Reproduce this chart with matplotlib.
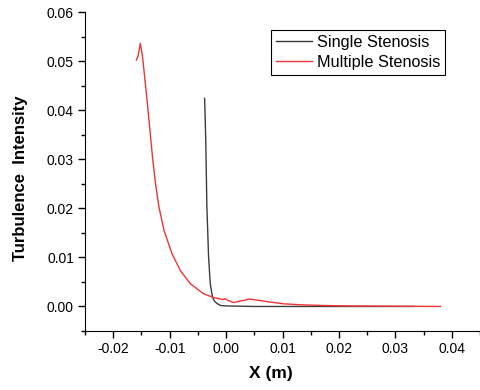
import matplotlib
matplotlib.use("Agg")
import matplotlib.pyplot as plt
from matplotlib.ticker import MultipleLocator

plt.rcParams['font.family'] = ['Liberation Sans', 'DejaVu Sans']

# Single stenosis curve
single_x = [-0.0038, -0.0036, -0.0034, -0.0031, -0.0028, -0.0025, -0.0023, -0.0020,
            -0.0016, -0.0010, 0.0001, 0.0050, 0.0150, 0.0250, 0.0333]
single_y = [0.0424, 0.0339, 0.0203, 0.0101, 0.0046, 0.0025, 0.0016, 0.0010,
            0.0006, 0.0002, 0.0001, 0.0000, 0.0000, 0.0000, 0.0000]

# Multiple stenosis curve
multi_x = [-0.0159, -0.0156, -0.0152, -0.0148, -0.0140, -0.0135, -0.0130, -0.0125,
           -0.0119, -0.0110, -0.0096, -0.0081, -0.0063, -0.0040, -0.0022, -0.0005,
           -0.0002, 0.0004, 0.0013, 0.0025, 0.0042, 0.0072, 0.0101, 0.0130,
           0.0170, 0.0220, 0.0300, 0.0380]
multi_y = [0.0502, 0.0510, 0.0536, 0.0509, 0.0420, 0.0360, 0.0300, 0.0250,
           0.0203, 0.0155, 0.0108, 0.0073, 0.0046, 0.0026, 0.0018, 0.0014,
           0.0016, 0.0012, 0.0008, 0.0011, 0.0015, 0.0010, 0.00055, 0.00035,
           0.0002, 0.0001, 0.00005, 0.0000]

fig = plt.figure(figsize=(4.81, 3.90), dpi=100)
ax = fig.add_axes([85 / 481, 1 - 331 / 390, 395 / 481, (331 - 12) / 390])

ax.plot(single_x, single_y, color='#3c3c3c', lw=1.0, label='Single Stenosis')
ax.plot(multi_x, multi_y, color='#ee3535', lw=1.0, label='Multiple Stenosis')

ax.set_xlim(-0.025, 0.045)
ax.set_ylim(-0.005, 0.06)
ax.xaxis.set_minor_locator(MultipleLocator(0.005))
ax.yaxis.set_minor_locator(MultipleLocator(0.005))
ax.set_xticks([-0.02, -0.01, 0.0, 0.01, 0.02, 0.03, 0.04])
ax.set_xticklabels(['-0.02', '-0.01', '0.00', '0.01', '0.02', '0.03', '0.04'])
ax.set_yticks([0.0, 0.01, 0.02, 0.03, 0.04, 0.05, 0.06])
ax.set_yticklabels(['0.00', '0.01', '0.02', '0.03', '0.04', '0.05', '0.06'])

ax.spines['top'].set_visible(False)
ax.spines['right'].set_visible(False)
ax.tick_params(which='major', direction='out', length=5, width=1, labelsize=10, pad=3)
ax.tick_params(which='minor', direction='out', length=3, width=1)

ax.set_xlabel('X (m)', fontsize=12.5, fontweight='bold')
ax.set_ylabel('Turbulence  Intensity', fontsize=12, fontweight='bold')
# place labels at the same spots as the reference
ax.xaxis.set_label_coords((271 - 85) / 395, -(366 - 331) / 319)
ax.yaxis.set_label_coords(-(85 - 28) / 395, (331 - 178) / 319)

leg = ax.legend(loc='upper right', bbox_to_anchor=(445 / 481, 1 - 30 / 390),
                bbox_transform=fig.transFigure, borderaxespad=0, fontsize=11.7,
                handlelength=2.2, handletextpad=0.3, fancybox=False,
                edgecolor='black', framealpha=1, borderpad=0.3, labelspacing=0.3)
leg.get_frame().set_linewidth(0.8)

fig.savefig('out.png', dpi=100)
